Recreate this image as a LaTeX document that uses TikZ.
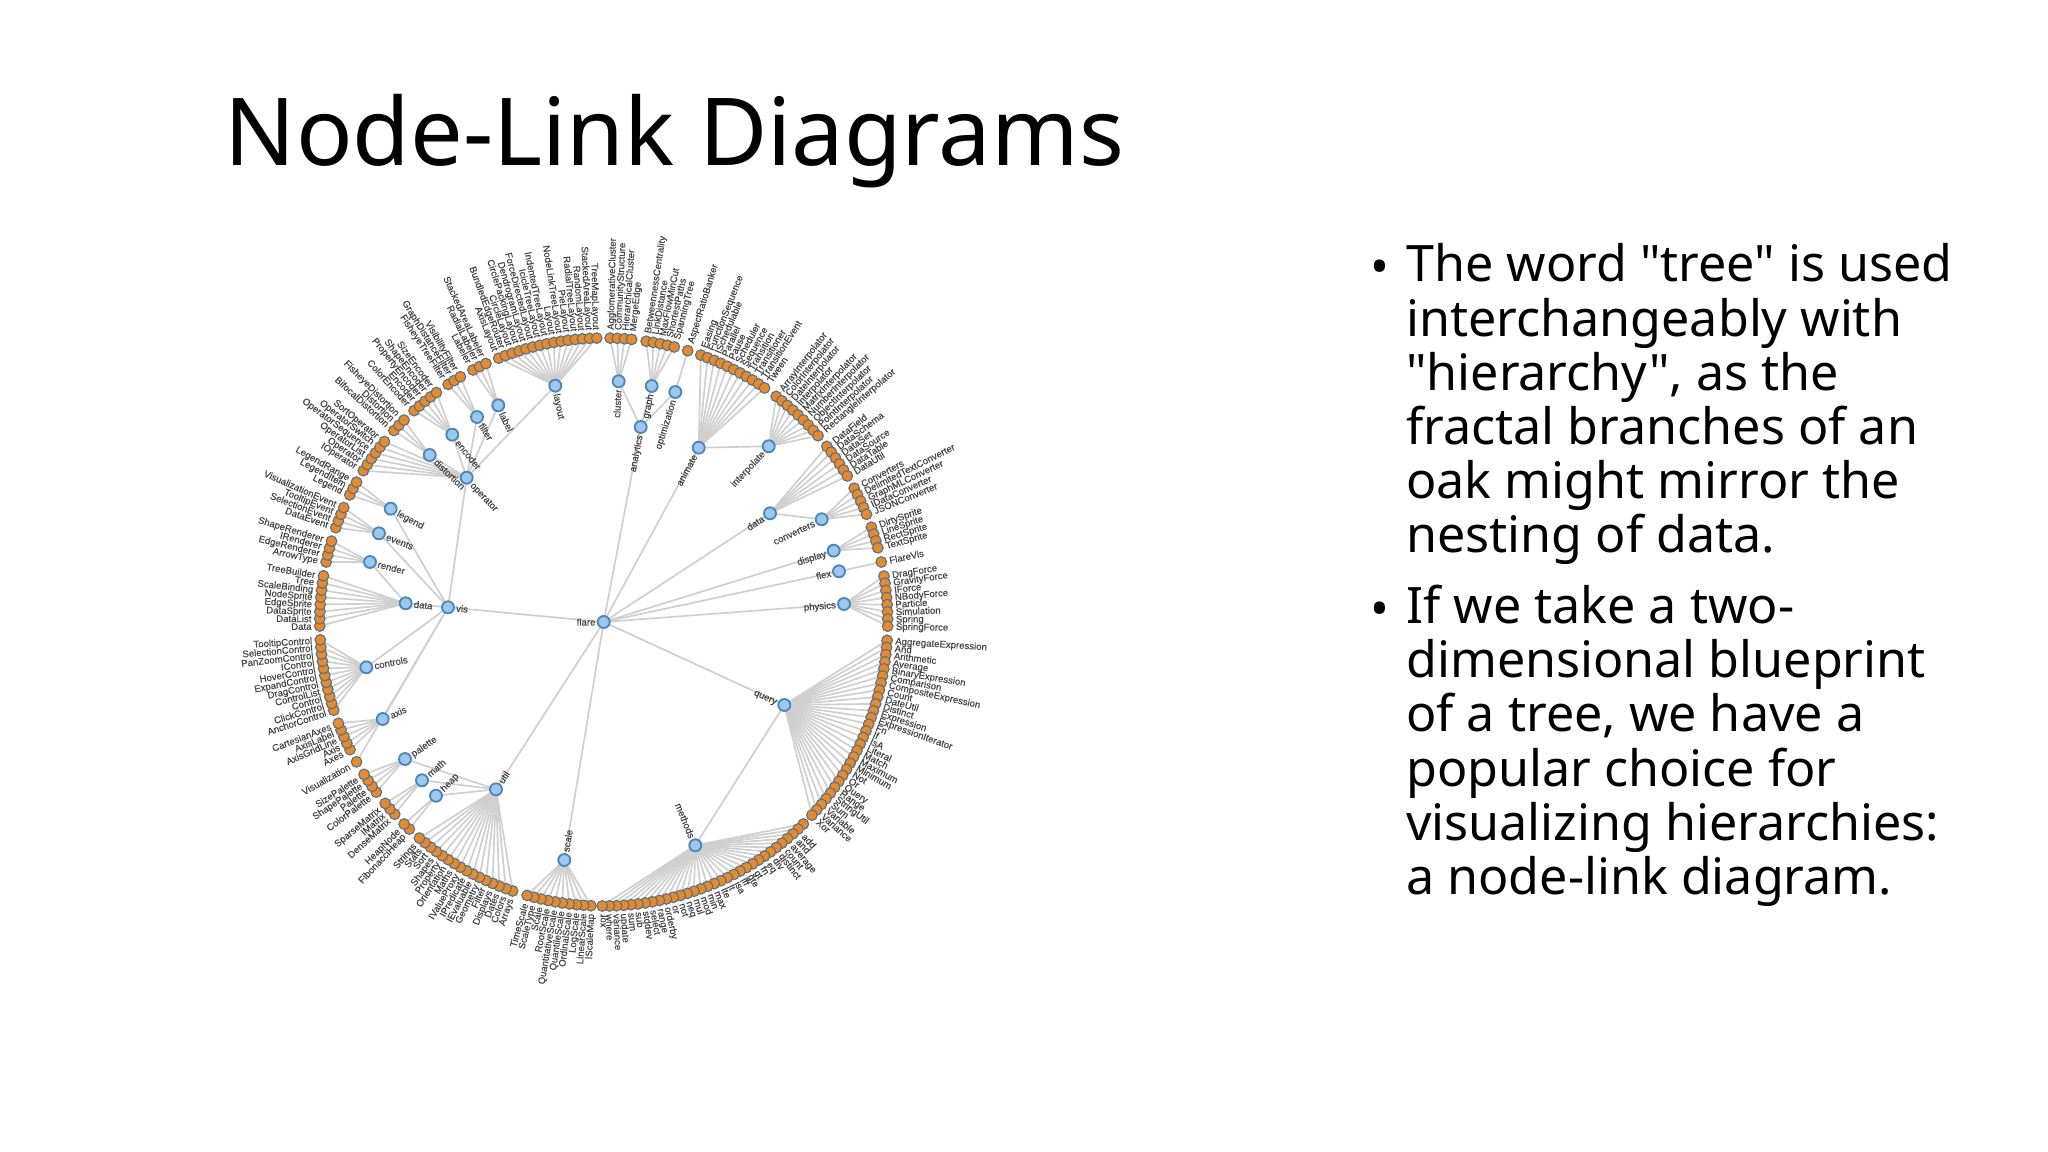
\documentclass[tikz,border=0pt]{standalone}
\usepackage{fontspec}
\setmainfont{Noto Sans}
\newfontfamily\bodyf{Noto Sans}
\newfontfamily\lab{Liberation Sans}[FakeBold=0.25]
\definecolor{edgecol}{HTML}{CFCFCF}
\definecolor{leaffill}{HTML}{E58A2E}
\definecolor{leafline}{HTML}{5F7280}
\definecolor{innerfill}{HTML}{9CC8EE}
\definecolor{innerline}{HTML}{4F86B8}
\definecolor{labcol}{HTML}{444444}
\tikzset{
  edge/.style={draw=edgecol,line width=1.25pt},
  leafdot/.style={circle,draw=leafline,fill=leaffill,line width=.85pt,minimum size=8pt,inner sep=0pt},
  innerdot/.style={circle,draw=innerline,fill=innerfill,line width=1.4pt,minimum size=9pt,inner sep=0pt},
  lbl/.style={font=\lab\fontsize{7.2pt}{8pt}\selectfont,text=labcol,inner sep=0pt},
  bodytext/.style={font=\bodyf\fontsize{37.65pt}{40.6pt}\selectfont,align=left,anchor=north west,inner sep=0pt},
  bulletmark/.style={font=\bodyf\fontsize{37.65pt}{40pt}\selectfont,anchor=base west,inner sep=0pt}
}
\newcommand\cX{603.7}
\newcommand\cY{622}
\newif\ifdotspass
% inner node: name, x, y, label
\newcommand\inner[4]{%
  \ifdotspass
  \node[innerdot] (#1) at (#2,#3) {};
  \pgfmathsetmacro\ia{atan2(\cY-#3,#2-\cX)}%
  \pgfmathsetmacro\ir{veclen(\cY-#3,#2-\cX)-8}%
  \pgfmathsetmacro\ix{\cX+\ir*cos(\ia)}%
  \pgfmathsetmacro\iy{\cY-\ir*sin(\ia)}%
  \pgfmathtruncatemacro\ileft{abs(\ia)>90?1:0}%
  \ifnum\ileft=1
    \pgfmathsetmacro\ib{\ia+180}%
    \node[lbl,anchor=mid west,rotate=\ib] (#1-l) at (\ix,\iy) {#4};
  \else
    \node[lbl,anchor=mid east,rotate=\ia] (#1-l) at (\ix,\iy) {#4};
  \fi
  \else
  \coordinate (#1) at (#2,#3);
  \fi
}
% leaf group: parent, start angle, list
\newcommand\leaves[3]{%
  \foreach \t [count=\i from 1] in {#3} {
    \pgfmathsetmacro\la{#2-1.45*(\i-1)}%
    \pgfmathsetmacro\lx{\cX+284*cos(\la)}%
    \pgfmathsetmacro\ly{\cY-284*sin(\la)}%
    \ifdotspass
    \pgfmathsetmacro\tx{\cX+292*cos(\la)}%
    \pgfmathsetmacro\ty{\cY-292*sin(\la)}%
    \pgfmathtruncatemacro\lleft{abs(\la)>90?1:0}%
    \node[leafdot] (#1-\i) at (\lx,\ly) {};
    \ifnum\lleft=1
      \pgfmathsetmacro\lb{\la+180}%
      \node[lbl,anchor=mid east,rotate=\lb] (#1-t\i) at (\tx,\ty) {\t};
    \else
      \node[lbl,anchor=mid west,rotate=\la] (#1-t\i) at (\tx,\ty) {\t};
    \fi
    \else
    \coordinate (#1-\i) at (\lx,\ly);
    \draw[edge] (#1) -- (#1-\i);
    \fi
  }%
}
\newcommand\treenodes{%
\inner{vis}{448}{607.3}{vis}
\inner{analytics}{640.7}{427}{analytics}
\inner{animate}{698.7}{447.7}{animate}
\inner{dat}{770}{513.3}{data}
\inner{display}{833.7}{550.7}{display}
\inner{flex}{839}{571.3}{flex}
\inner{physics}{844}{604}{physics}
\inner{query}{784.3}{705}{query}
\inner{methods}{695.3}{845.3}{methods}
\inner{scale}{564.3}{860}{scale}
\inner{util}{496}{789.3}{util}
\inner{cluster}{618.7}{381.3}{cluster}
\inner{graph}{651.7}{386}{graph}
\inner{optim}{675.3}{392}{optimization}
\inner{interp}{768.7}{446.3}{interpolate}
\inner{conv}{821.7}{519.3}{converters}
\inner{heap}{436}{795.7}{heap}
\inner{math}{422}{780.3}{math}
\inner{palette}{405}{759}{palette}
\inner{vdata}{405.7}{603.3}{data}
\inner{render}{370}{562}{render}
\inner{events}{379}{533.3}{events}
\inner{controls}{366.3}{667.3}{controls}
\inner{axis}{382.7}{719}{axis}
\inner{legend}{390.7}{508.7}{legend}
\inner{operator}{466.7}{477.7}{operator}
\inner{distortion}{429.7}{455}{distortion}
\inner{encoder}{452.3}{434.7}{encoder}
\inner{filter}{477}{417}{filter}
\inner{label}{498.3}{405.3}{label}
\inner{layout}{555.3}{385.7}{layout}
}
\newcommand\treeleaves{%
\leaves{layout}{111.7}{AxisLayout,BundledEdgeRouter,CircleLayout,CirclePackingLayout,DendrogramLayout,ForceDirectedLayout,IcicleTreeLayout,IndentedTreeLayout,Layout,NodeLinkTreeLayout,PieLayout,RadialTreeLayout,RandomLayout,StackedAreaLayout,TreeMapLayout}
\leaves{cluster}{88.7}{AgglomerativeCluster,CommunityStructure,HierarchicalCluster,MergeEdge}
\leaves{graph}{81.4}{BetweennessCentrality,LinkDistance,MaxFlowMinCut,ShortestPaths,SpanningTree}
\leaves{optim}{72.8}{AspectRatioBanker}
\leaves{animate}{70}{Easing,FunctionSequence,ISchedulable,Parallel,Pause,Scheduler,Sequence,Transition,Transitioner,TransitionEvent,Tween}
\leaves{interp}{52.6}{ArrayInterpolator,ColorInterpolator,DateInterpolator,Interpolator,MatrixInterpolator,NumberInterpolator,ObjectInterpolator,PointInterpolator,RectangleInterpolator}
\leaves{dat}{38.2}{DataField,DataSchema,DataSet,DataSource,DataTable,DataUtil}
\leaves{conv}{28.1}{Converters,DelimitedTextConverter,GraphMLConverter,IDataConverter,JSONConverter}
\leaves{display}{19.5}{DirtySprite,LineSprite,RectSprite,TextSprite}
\leaves{flex}{12.2}{FlareVis}
\leaves{physics}{9.3}{DragForce,GravityForce,IForce,NBodyForce,Particle,Simulation,Spring,SpringForce}
\leaves{query}{-3.7}{AggregateExpression,And,Arithmetic,Average,BinaryExpression,Comparison,CompositeExpression,Count,DateUtil,Distinct,Expression,ExpressionIterator,Fn,If,IsA,Literal,Match,Maximum,Minimum,Not,Or,Query,Range,StringUtil,Sum,Variable,Variance,Xor}
\leaves{methods}{-45.35}{{},add,and,average,count,distinct,div,eq,fn,gt,gte,iff,isa,lt,lte,max,min,mod,mul,neq,not,or,orderby,range,select,stddev,sub,sum,update,variance,where,xor}
\leaves{scale}{-92.6}{IScaleMap,LinearScale,LogScale,OrdinalScale,QuantileScale,QuantitativeScale,RootScale,Scale,ScaleType,TimeScale}
\leaves{util}{-108.7}{Arrays,Colors,Dates,Displays,Filter,Geometry,IEvaluable,IPredicate,IValueProxy,Maths,Orientation,Property,Shapes,Sort,Stats,Strings}
\leaves{heap}{-133.2}{FibonacciHeap,HeapNode}
\leaves{math}{-137.4}{DenseMatrix,IMatrix,SparseMatrix}
\leaves{palette}{-143.2}{ColorPalette,Palette,ShapePalette,SizePalette}
\leaves{vis}{-150.5}{Visualization}
\leaves{axis}{-153.3}{Axes,Axis,AxisGridLine,AxisLabel,CartesianAxes}
\leaves{controls}{-161.9}{AnchorControl,ClickControl,Control,ControlList,DragControl,ExpandControl,HoverControl,IControl,PanZoomControl,SelectionControl,TooltipControl}
\leaves{vdata}{180.8}{Data,DataList,DataSprite,EdgeSprite,NodeSprite,ScaleBinding,Tree,TreeBuilder}
\leaves{render}{167.8}{ArrowType,EdgeRenderer,IRenderer,ShapeRenderer}
\leaves{events}{160.6}{DataEvent,SelectionEvent,TooltipEvent,VisualizationEvent}
\leaves{legend}{153.4}{Legend,LegendItem,LegendRange}
\leaves{operator}{147.8}{IOperator,Operator,OperatorList,OperatorSequence,OperatorSwitch,SortOperator}
\leaves{distortion}{137.6}{BifocalDistortion,Distortion,FisheyeDistortion}
\leaves{encoder}{131.9}{ColorEncoder,Encoder,PropertyEncoder,ShapeEncoder,SizeEncoder}
\leaves{filter}{123.2}{FisheyeTreeFilter,GraphDistanceFilter,VisibilityFilter}
\leaves{label}{117.4}{Labeler,RadialLabeler,StackedAreaLabeler}
}
\begin{document}
\begin{tikzpicture}[x=.75pt,y=-.75pt]
\useasboundingbox (0,0) rectangle (2048,1152);
\fill[white] (0,0) rectangle (2048,1152);

\node[font=\fontsize{70.3pt}{80pt}\selectfont,anchor=base west,inner sep=0pt] (title) at (224.5,166) {Node-Link Diagrams};

% first pass: positions and connectors, underneath everything
\dotspassfalse
\coordinate (flare) at (\cX,\cY);
\treenodes
\foreach \a/\b in {flare/vis,flare/analytics,flare/animate,flare/dat,flare/display,flare/flex,flare/physics,flare/query,flare/scale,flare/util,query/methods,analytics/cluster,analytics/graph,analytics/optim,animate/interp,dat/conv,util/heap,util/math,util/palette,vis/vdata,vis/events,vis/legend,vis/controls,vis/axis,vis/operator,vdata/render,operator/distortion,operator/encoder,operator/filter,operator/label,operator/layout}
  {\draw[edge] (\a) -- (\b);}
\treeleaves

% second pass: the nodes and their labels on top
\dotspasstrue
\node[innerdot] (flare) at (\cX,\cY) {};
\node[lbl,anchor=mid east] (flare-l) at (595.7,\cY) {flare};
\treenodes
\treeleaves

\node[bodytext] (p1) at (1406,243.5) {The word "tree" is used\\interchangeably with\\"hierarchy", as the\\fractal branches of an\\oak might mirror the\\nesting of data.};
\node[bulletmark] (b1) at (1370,284) {•};
\node[bodytext] (p2) at (1406,585) {If we take a two-\\dimensional blueprint\\of a tree, we have a\\popular choice for\\visualizing hierarchies:\\a node-link diagram.};
\node[bulletmark] (b2) at (1370,626) {•};
\end{tikzpicture}
\end{document}
